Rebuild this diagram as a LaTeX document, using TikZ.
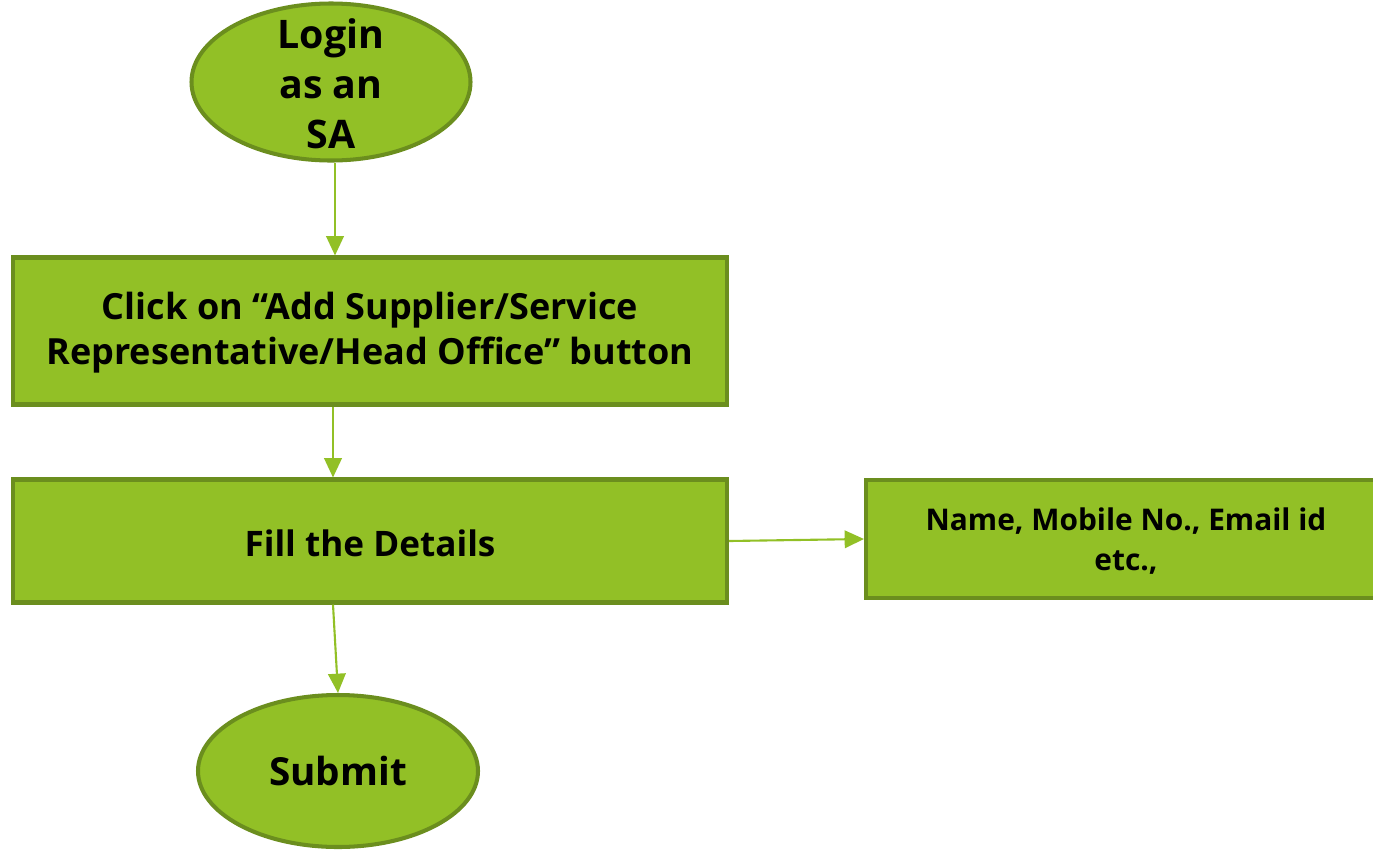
\documentclass[tikz,border=0pt]{standalone}
\usepackage{fontspec}
\setmainfont{Open Sans}
\usetikzlibrary{shapes.geometric,arrows.meta}
\definecolor{gfill}{HTML}{92C026}
\definecolor{gline}{HTML}{6B8E1E}
\tikzset{
  px/.style={x=0.02cm,y=-0.02cm},
  boxshape/.style={draw=gline,fill=gfill,line width=2.3pt,rectangle,inner sep=0pt},
  ellshape/.style={draw=gline,fill=gfill,line width=2.3pt,ellipse,inner sep=0pt},
  arr/.style={draw=gfill,line width=1.2pt,-{Triangle[length=11pt,width=10pt]}},
  lbl/.style={font=\bfseries,align=center,text=black}
}
\begin{document}
\begin{tikzpicture}[px]
\useasboundingbox (0,0) rectangle (1373,849);
\clip (0,0) rectangle (1373,849);
\node[ellshape,minimum width=279*0.02cm,minimum height=157*0.02cm] (login) at (331,82) {};
\node[lbl,font=\bfseries\fontsize{22.4}{28.5}\selectfont] (logintext) at (331,84) {Login\\as an\\SA};
\node[boxshape,minimum width=714*0.02cm,minimum height=147*0.02cm] (box1) at (370,331) {};
\node[lbl,font=\bfseries\fontsize{20.5}{25.5}\selectfont] (box1text) at (370,333) {Click on “Add Supplier/Service\\Representative/Head Office” button};
\node[boxshape,minimum width=714*0.02cm,minimum height=123*0.02cm] (box2) at (370,541) {};
\node[lbl,font=\bfseries\fontsize{20}{25.5}\selectfont] (box2text) at (370,543) {Fill the Details};
\node[boxshape,minimum width=520*0.02cm,minimum height=118*0.02cm] (box3) at (1126,539) {};
\node[lbl,font=\bfseries\fontsize{17}{23}\selectfont] (box3text) at (1126,541) {Name, Mobile No., Email id\\etc.,};
\node[ellshape,minimum width=280*0.02cm,minimum height=152*0.02cm] (submit) at (338,771) {};
\node[lbl,font=\bfseries\fontsize{22}{28}\selectfont] (submittext) at (submit.center) {Submit};
\draw[arr] (login.south) ++(4,0) coordinate (a1s) -- (a1s |- box1.north);
\draw[arr] (login |- box1.south) ++(2,0) coordinate (a2s) -- (a2s |- box2.north);
\draw[arr] (box2.east) -- (box3.west);
\draw[arr] (login |- box2.south) ++(2,0) coordinate (a4s) -- (submit.north);
\end{tikzpicture}
\end{document}
